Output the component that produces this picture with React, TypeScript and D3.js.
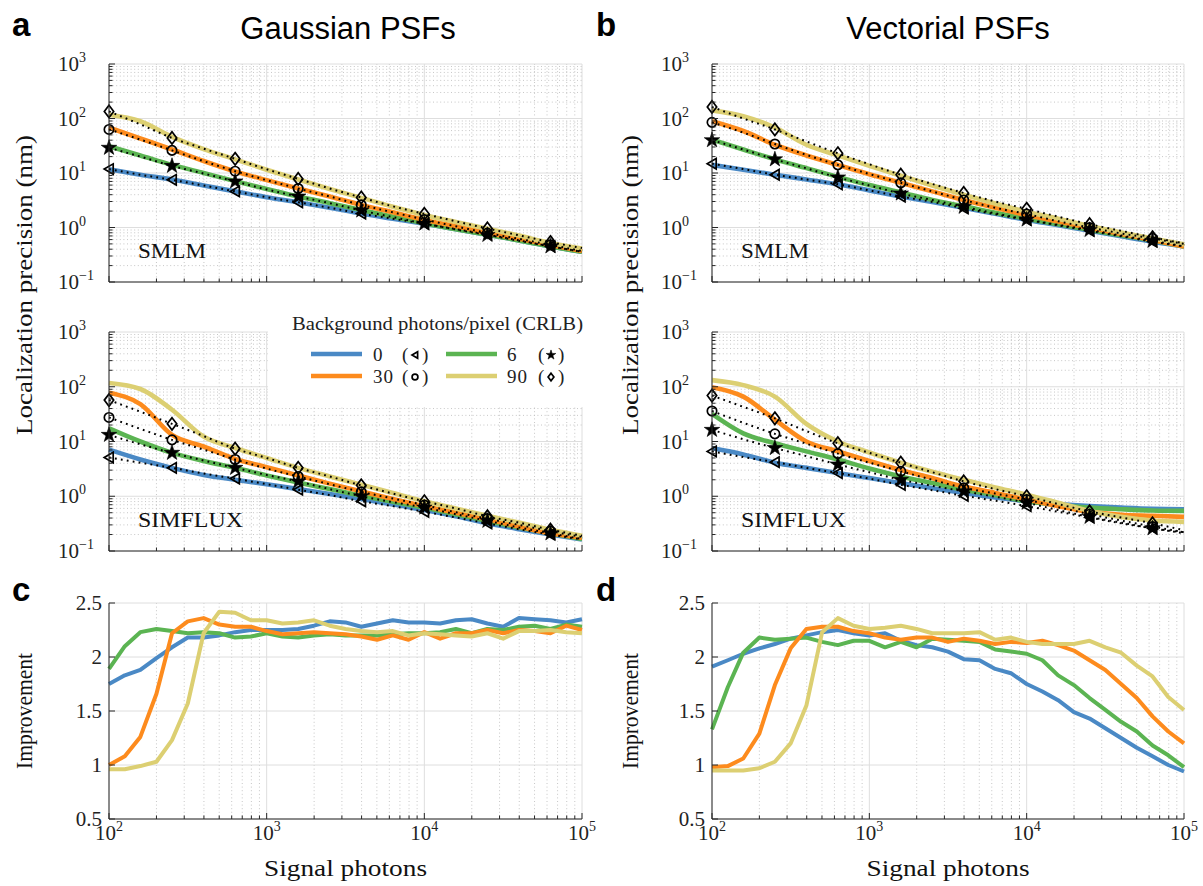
import React from "react";
import * as d3 from "d3";

// ---------------- data ----------------
const SIGNAL = [100, 158, 251, 398, 631, 1000, 1585, 2512, 3981, 6310, 10000, 15849, 25119, 39811, 63096, 100000];
const SIGNAL_FINE = [100, 126, 158, 200, 251, 316, 398, 501, 631, 794, 1000, 1259, 1585, 1995, 2512, 3162, 3981, 5012, 6310, 7943, 10000, 12589, 15849, 19953, 25119, 31623, 39811, 50119, 63096, 79433, 100000];
const MARKER_IDX = [0, 2, 4, 6, 8, 10, 12, 14];

const LEVELS = ["0", "6", "30", "90"];
const LEVEL_COLORS: Record<string, string> = { "0": "#4a89c5", "6": "#5bb452", "30": "#fd8b1d", "90": "#dccf72" };
const LEVEL_MARKERS: Record<string, string> = { "0": "triangle", "6": "star", "30": "circle", "90": "diamond" };

const X_DOMAIN = [1e2, 1e5];
const X_MAJOR = [1e2, 1e3, 1e4, 1e5];
const PREC_DOMAIN = [1e-1, 1e3];
const PREC_MAJOR = [1e-1, 1e0, 1e1, 1e2, 1e3];
const IMP_DOMAIN = [0.5, 2.5];
const IMP_MAJOR = [0.5, 1, 1.5, 2, 2.5];
const IMP_LABELS = ["0.5", "1", "1.5", "2", "2.5"];

// Gaussian PSF, SMLM (fit)
const G_SMLM_0 = [11.7, 9.3, 7.6, 5.9, 4.6, 3.6, 2.9, 2.3, 1.8, 1.45, 1.17, 0.93, 0.74, 0.58, 0.45, 0.36];
const G_SMLM_6 = [31, 21, 14.1, 10, 7.1, 5.1, 3.7, 2.8, 2.1, 1.58, 1.2, 0.93, 0.74, 0.58, 0.45, 0.36];
const G_SMLM_30 = [68, 43, 27, 16.6, 10.7, 7.4, 5.2, 3.7, 2.6, 1.9, 1.38, 1.05, 0.79, 0.62, 0.48, 0.37];
const G_SMLM_90 = [117, 89, 46, 27.5, 17.8, 11.5, 7.6, 5.1, 3.5, 2.4, 1.7, 1.26, 0.95, 0.71, 0.52, 0.41];
// Gaussian PSF, SMLM (CRLB)
const G_SMLM_CRLB_0 = [11.8, 9.3, 7.5, 5.9, 4.6, 3.6, 2.9, 2.3, 1.8, 1.45, 1.17, 0.93, 0.74, 0.58, 0.45, 0.36];
const G_SMLM_CRLB_6 = [29, 20, 13.5, 9.8, 7.0, 5.0, 3.7, 2.8, 2.05, 1.55, 1.18, 0.92, 0.73, 0.57, 0.45, 0.36];
const G_SMLM_CRLB_30 = [63, 41, 26, 16.5, 10.8, 7.4, 5.2, 3.7, 2.6, 1.9, 1.4, 1.05, 0.79, 0.62, 0.48, 0.37];
const G_SMLM_CRLB_90 = [135, 78, 44, 28, 18.2, 11.7, 7.8, 5.2, 3.55, 2.45, 1.78, 1.3, 0.96, 0.72, 0.54, 0.42];
// Gaussian PSF, SIMFLUX (fit)
const G_SIM_0 = [7.1, 4.7, 3.3, 2.45, 2.0, 1.66, 1.35, 1.1, 0.89, 0.71, 0.56, 0.43, 0.32, 0.25, 0.2, 0.162];
const G_SIM_6 = [17.4, 10, 6.2, 4.4, 3.3, 2.4, 1.78, 1.35, 1.02, 0.79, 0.62, 0.47, 0.355, 0.27, 0.21, 0.166];
const G_SIM_30 = [78, 48, 13.2, 8.1, 4.8, 3.4, 2.4, 1.7, 1.23, 0.89, 0.66, 0.5, 0.38, 0.28, 0.21, 0.174];
const G_SIM_90 = [117, 91, 38, 12.3, 7.6, 5.0, 3.3, 2.3, 1.62, 1.15, 0.81, 0.6, 0.44, 0.33, 0.245, 0.19];
// Gaussian PSF, SIMFLUX (CRLB)
const G_SIM_CRLB_0 = [5.1, 4.1, 3.3, 2.6, 2.1, 1.66, 1.32, 1.05, 0.81, 0.66, 0.52, 0.41, 0.32, 0.25, 0.2, 0.162];
const G_SIM_CRLB_6 = [13.2, 8.9, 6.2, 4.5, 3.3, 2.45, 1.86, 1.35, 1.0, 0.78, 0.62, 0.47, 0.355, 0.27, 0.21, 0.166];
const G_SIM_CRLB_30 = [27.5, 17, 10.7, 7.1, 4.7, 3.2, 2.3, 1.66, 1.2, 0.91, 0.69, 0.51, 0.39, 0.3, 0.23, 0.18];
const G_SIM_CRLB_90 = [57, 35, 21, 12.6, 7.4, 5.0, 3.3, 2.3, 1.58, 1.12, 0.81, 0.6, 0.43, 0.33, 0.245, 0.19];

// Vectorial PSF, SMLM (fit)
const V_SMLM_0 = [14.1, 11.5, 9.3, 7.6, 6.2, 4.8, 3.7, 2.95, 2.3, 1.78, 1.38, 1.1, 0.87, 0.69, 0.55, 0.45];
const V_SMLM_6 = [41, 27, 17.8, 12.3, 8.5, 6.0, 4.4, 3.2, 2.45, 1.86, 1.45, 1.15, 0.91, 0.72, 0.58, 0.45];
const V_SMLM_30 = [89, 59, 33, 21, 14.1, 9.5, 6.6, 4.6, 3.2, 2.3, 1.7, 1.29, 0.98, 0.76, 0.59, 0.45];
const V_SMLM_90 = [141, 110, 68, 33, 21, 13.5, 8.9, 5.9, 4.0, 2.75, 1.95, 1.45, 1.07, 0.81, 0.63, 0.49];
// Vectorial PSF, SMLM (CRLB)
const V_SMLM_CRLB_0 = [14.8, 11.8, 9.3, 7.6, 6.2, 4.8, 3.7, 2.95, 2.25, 1.75, 1.38, 1.1, 0.87, 0.69, 0.55, 0.45];
const V_SMLM_CRLB_6 = [40, 27, 17.8, 12.2, 8.3, 5.9, 4.2, 3.2, 2.4, 1.82, 1.4, 1.12, 0.9, 0.71, 0.57, 0.45];
const V_SMLM_CRLB_30 = [85, 55, 34, 21.5, 14.1, 9.6, 6.6, 4.6, 3.2, 2.3, 1.77, 1.3, 1.0, 0.78, 0.63, 0.5];
const V_SMLM_CRLB_90 = [163, 100, 63, 38, 23, 14.5, 9.3, 6.3, 4.3, 3.0, 2.2, 1.58, 1.15, 0.87, 0.66, 0.51];
// Vectorial PSF, SIMFLUX (fit)
const V_SIM_0 = [7.6, 5.8, 4.1, 3.3, 2.65, 2.15, 1.74, 1.41, 1.15, 0.95, 0.81, 0.72, 0.66, 0.62, 0.59, 0.58];
const V_SIM_6 = [32, 14.1, 9.3, 6.6, 4.7, 3.2, 2.3, 1.74, 1.32, 1.05, 0.81, 0.69, 0.62, 0.58, 0.55, 0.54];
const V_SIM_30 = [98, 66, 25, 10, 6.6, 4.4, 3.0, 2.15, 1.5, 1.15, 0.87, 0.66, 0.52, 0.46, 0.44, 0.42];
const V_SIM_90 = [132, 107, 66, 21, 10, 6.3, 4.1, 2.8, 2.0, 1.45, 1.07, 0.76, 0.54, 0.42, 0.36, 0.34];
// Vectorial PSF, SIMFLUX (CRLB)
const V_SIM_CRLB_0 = [6.6, 5.2, 4.2, 3.3, 2.65, 2.1, 1.62, 1.29, 1.02, 0.83, 0.66, 0.52, 0.41, 0.32, 0.26, 0.21];
const V_SIM_CRLB_6 = [16.3, 11, 7.6, 5.4, 3.8, 2.75, 2.0, 1.55, 1.23, 0.98, 0.76, 0.56, 0.42, 0.33, 0.26, 0.22];
const V_SIM_CRLB_30 = [36, 22, 13.8, 9.1, 6.0, 4.1, 2.85, 2.0, 1.42, 1.12, 0.87, 0.63, 0.47, 0.36, 0.28, 0.22];
const V_SIM_CRLB_90 = [69, 43, 26.5, 15.5, 9.3, 6.2, 4.1, 2.75, 1.87, 1.35, 1.0, 0.72, 0.53, 0.41, 0.32, 0.24];

// Improvement, Gaussian
const IMP_G_0 = [1.75, 1.83, 1.88, 1.99, 2.09, 2.18, 2.18, 2.2, 2.23, 2.25, 2.25, 2.25, 2.26, 2.29, 2.33, 2.32, 2.28, 2.31, 2.34, 2.32, 2.32, 2.31, 2.34, 2.35, 2.31, 2.28, 2.36, 2.35, 2.34, 2.32, 2.35];
const IMP_G_6 = [1.89, 2.1, 2.23, 2.26, 2.24, 2.22, 2.23, 2.22, 2.18, 2.19, 2.22, 2.19, 2.18, 2.2, 2.21, 2.2, 2.2, 2.2, 2.21, 2.22, 2.22, 2.23, 2.26, 2.22, 2.26, 2.25, 2.28, 2.29, 2.26, 2.3, 2.28];
const IMP_G_30 = [1.0, 1.08, 1.26, 1.66, 2.22, 2.33, 2.36, 2.3, 2.28, 2.28, 2.24, 2.21, 2.22, 2.23, 2.22, 2.21, 2.19, 2.16, 2.2, 2.16, 2.23, 2.17, 2.22, 2.22, 2.25, 2.22, 2.25, 2.24, 2.22, 2.29, 2.25];
const IMP_G_90 = [0.96, 0.96, 0.99, 1.03, 1.23, 1.57, 2.22, 2.42, 2.41, 2.34, 2.34, 2.31, 2.32, 2.34, 2.29, 2.26, 2.24, 2.23, 2.24, 2.2, 2.22, 2.21, 2.2, 2.19, 2.22, 2.17, 2.24, 2.24, 2.25, 2.23, 2.22];
// Improvement, Vectorial
const IMP_V_0 = [1.91, 1.97, 2.03, 2.08, 2.12, 2.17, 2.2, 2.23, 2.25, 2.22, 2.2, 2.22, 2.15, 2.11, 2.09, 2.05, 1.98, 1.97, 1.89, 1.85, 1.75, 1.68, 1.6, 1.49, 1.43, 1.34, 1.25, 1.16, 1.08, 1.0, 0.94];
const IMP_V_6 = [1.33, 1.72, 2.04, 2.18, 2.16, 2.17, 2.18, 2.14, 2.11, 2.15, 2.15, 2.09, 2.14, 2.09, 2.17, 2.16, 2.15, 2.14, 2.07, 2.05, 2.03, 1.97, 1.83, 1.74, 1.62, 1.51, 1.4, 1.31, 1.18, 1.09, 0.98];
const IMP_V_30 = [0.98, 0.99, 1.06, 1.29, 1.74, 2.08, 2.26, 2.28, 2.28, 2.24, 2.22, 2.18, 2.16, 2.18, 2.18, 2.14, 2.17, 2.15, 2.12, 2.14, 2.13, 2.15, 2.11, 2.06, 1.97, 1.88, 1.75, 1.62, 1.45, 1.31, 1.2];
const IMP_V_90 = [0.95, 0.95, 0.95, 0.97, 1.03, 1.2, 1.55, 2.23, 2.36, 2.29, 2.26, 2.27, 2.29, 2.26, 2.22, 2.22, 2.22, 2.23, 2.16, 2.18, 2.14, 2.12, 2.12, 2.12, 2.15, 2.09, 2.04, 1.92, 1.82, 1.63, 1.51];

// ---------------- styling ----------------
const SERIF = "'Liberation Serif', 'DejaVu Serif', serif";
const SANS = "'Liberation Sans', Arial, sans-serif";
const AXIS = "#262626";
const GRID_MAJOR = "#dedede";
const GRID_MINOR = "#b9b9b9";

const isDecade = (v: number) => Math.abs(Math.log10(v) - Math.round(Math.log10(v))) < 1e-9;

function Marker({ kind, cx, cy, s = 1 }: { kind: string; cx: number; cy: number; s?: number }) {
  const t = `translate(${cx},${cy}) scale(${s})`;
  const sw = 1.7 / s;
  if (kind === "circle") return <circle transform={t} r={4.7} fill="none" stroke="#000" strokeWidth={sw} />;
  if (kind === "triangle") return <path transform={t} d="M-4.8,0L4.2,-5.2L4.2,5.2Z" fill="none" stroke="#000" strokeWidth={sw} strokeLinejoin="miter" />;
  if (kind === "diamond") return <path transform={t} d="M0,-6.2L4.7,0L0,6.2L-4.7,0Z" fill="none" stroke="#000" strokeWidth={sw} />;
  const star = d3.symbol().type(d3.symbolStar).size(75)() as string;
  return <path transform={t} d={star} fill="#000" stroke="#000" strokeWidth={0.6 / s} />;
}

type Box = { L: number; R: number; T: number; B: number };

function LogXGrid({ x, box }: { x: any; box: Box }) {
  const ticks: number[] = x.ticks();
  return (
    <g>
      {ticks.filter((v) => !isDecade(v)).map((v, i) => (
        <line key={"xm" + i} x1={x(v)} x2={x(v)} y1={box.T} y2={box.B} stroke={GRID_MINOR} strokeWidth={0.8} strokeDasharray="1 2.6" />
      ))}
      {X_MAJOR.map((v, i) => (
        <line key={"xM" + i} x1={x(v)} x2={x(v)} y1={box.T} y2={box.B} stroke={GRID_MAJOR} strokeWidth={1} />
      ))}
    </g>
  );
}

function XAxis({ x, box, labels }: { x: any; box: Box; labels: boolean }) {
  const ticks: number[] = x.ticks();
  return (
    <g>
      <line x1={box.L} x2={box.R} y1={box.B} y2={box.B} stroke={AXIS} strokeWidth={1} />
      {ticks.map((v, i) => {
        const len = isDecade(v) ? 6 : 3.5;
        return <line key={i} x1={x(v)} x2={x(v)} y1={box.B} y2={box.B - len} stroke={AXIS} strokeWidth={1} />;
      })}
      {labels &&
        X_MAJOR.map((v, i) => (
          <text key={"l" + i} x={x(v)} y={box.B + 21} textAnchor="middle" fontFamily={SERIF} fontSize={21} fill="#222">
            10
            <tspan dy={-9} fontSize={14}>{String(Math.round(Math.log10(v)))}</tspan>
          </text>
        ))}
    </g>
  );
}

function PrecisionPanel({ box, fits, crlbs, label }: { box: Box; fits: Record<string, number[]>; crlbs: Record<string, number[]>; label: string; }) {
  const x = d3.scaleLog().domain(X_DOMAIN).range([box.L, box.R]);
  const y = d3.scaleLog().domain(PREC_DOMAIN).range([box.B, box.T]);
  const yTicks: number[] = y.ticks();
  const line = d3
    .line<number>()
    .x((_, i) => x(SIGNAL[i]))
    .y((d) => y(d))
    .curve(d3.curveMonotoneX);
  return (
    <g>
      <LogXGrid x={x} box={box} />
      {yTicks.filter((v) => !isDecade(v)).map((v, i) => (
        <line key={"ym" + i} x1={box.L} x2={box.R} y1={y(v)} y2={y(v)} stroke={GRID_MINOR} strokeWidth={0.8} strokeDasharray="1 2.6" />
      ))}
      {PREC_MAJOR.map((v, i) => (
        <line key={"yM" + i} x1={box.L} x2={box.R} y1={y(v)} y2={y(v)} stroke={GRID_MAJOR} strokeWidth={1} />
      ))}
      {LEVELS.map((k) => (
        <path key={"f" + k} d={line(fits[k]) as string} fill="none" stroke={LEVEL_COLORS[k]} strokeWidth={4.6} strokeLinejoin="round" />
      ))}
      {LEVELS.map((k) => (
        <path key={"c" + k} d={line(crlbs[k]) as string} fill="none" stroke="#000" strokeWidth={2} strokeDasharray="1.8 4.2" />
      ))}
      {LEVELS.map((k) =>
        MARKER_IDX.map((idx) => (
          <Marker key={k + "-" + idx} kind={LEVEL_MARKERS[k]} cx={x(SIGNAL[idx])} cy={y(crlbs[k][idx])} />
        ))
      )}
      <line x1={box.L} x2={box.L} y1={box.T} y2={box.B} stroke={AXIS} strokeWidth={1} />
      {yTicks.map((v, i) => {
        const len = isDecade(v) ? 6 : 3.5;
        return <line key={"yt" + i} x1={box.L} x2={box.L + len} y1={y(v)} y2={y(v)} stroke={AXIS} strokeWidth={1} />;
      })}
      {PREC_MAJOR.map((v, i) => (
        <text key={"yl" + i} x={box.L - 51} y={y(v) + 7} fontFamily={SERIF} fontSize={21} fill="#222">
          10
          <tspan dy={-9} fontSize={14}>{String(Math.round(Math.log10(v))).replace("-", "\u2212")}</tspan>
        </text>
      ))}
      <XAxis x={x} box={box} labels={false} />
      <text x={box.L + 29} y={box.B - 24} fontFamily={SERIF} fontSize={22} fill="#111" textLength={label === "SMLM" ? 68 : 105} lengthAdjust="spacingAndGlyphs">
        {label}
      </text>
    </g>
  );
}

function ImprovementPanel({ box, series }: { box: Box; series: Record<string, number[]> }) {
  const x = d3.scaleLog().domain(X_DOMAIN).range([box.L, box.R]);
  const y = d3.scaleLinear().domain(IMP_DOMAIN).range([box.B, box.T]);
  const line = d3
    .line<number>()
    .x((_, i) => x(SIGNAL_FINE[i]))
    .y((d) => y(d));
  return (
    <g>
      <LogXGrid x={x} box={box} />
      {IMP_MAJOR.map((v, i) => (
        <line key={"yM" + i} x1={box.L} x2={box.R} y1={y(v)} y2={y(v)} stroke={GRID_MAJOR} strokeWidth={1} />
      ))}
      {LEVELS.map((k) => (
        <path key={k} d={line(series[k]) as string} fill="none" stroke={LEVEL_COLORS[k]} strokeWidth={4} strokeLinejoin="round" />
      ))}
      <line x1={box.L} x2={box.L} y1={box.T} y2={box.B} stroke={AXIS} strokeWidth={1} />
      {IMP_MAJOR.map((v, i) => (
        <g key={"yt" + i}>
          <line x1={box.L} x2={box.L + 6} y1={y(v)} y2={y(v)} stroke={AXIS} strokeWidth={1} />
          <text x={box.L - 7} y={y(v) + 7} textAnchor="end" fontFamily={SERIF} fontSize={21} fill="#222">
            {IMP_LABELS[i]}
          </text>
        </g>
      ))}
      <XAxis x={x} box={box} labels={true} />
      <text x={(box.L + box.R) / 2} y={box.B + 57} textAnchor="middle" fontFamily={SERIF} fontSize={23} fill="#111" textLength={163} lengthAdjust="spacingAndGlyphs">
        Signal photons
      </text>
    </g>
  );
}

function Legend() {
  const rows = [
    ["0", "6"],
    ["30", "90"],
  ];
  const rowY = [354, 376];
  const colLine = [311, 446];
  const colNum = [373, 507];
  const colParen = [402, 538];
  return (
    <g>
      <rect x={268} y={300} width={322} height={107} fill="#fff" />
      <text x={292} y={330} fontFamily={SERIF} fontSize={19} fill="#222" textLength={291} lengthAdjust="spacingAndGlyphs">
        Background photons/pixel (CRLB)
      </text>
      {rows.map((row, r) =>
        row.map((k, c) => (
          <g key={k}>
            <line x1={colLine[c]} x2={colLine[c] + 51} y1={rowY[r]} y2={rowY[r]} stroke={LEVEL_COLORS[k]} strokeWidth={4.5} />
            <text x={colNum[c]} y={rowY[r] + 7} fontFamily={SERIF} fontSize={19} fill="#222" letterSpacing={1}>
              {k}
            </text>
            <text x={colParen[c]} y={rowY[r] + 7} fontFamily={SERIF} fontSize={19} fill="#222">(</text>
            <Marker kind={LEVEL_MARKERS[k]} cx={colParen[c] + 13} cy={rowY[r] + 1} s={0.62} />
            <text x={colParen[c] + 20} y={rowY[r] + 7} fontFamily={SERIF} fontSize={19} fill="#222">)</text>
          </g>
        ))
      )}
    </g>
  );
}

export default function App() {
  const aTop: Box = { L: 109, R: 582, T: 64, B: 282 };
  const aBot: Box = { L: 109, R: 582, T: 332, B: 551 };
  const bTop: Box = { L: 712, R: 1184, T: 64, B: 282 };
  const bBot: Box = { L: 712, R: 1184, T: 332, B: 551 };
  const cBox: Box = { L: 109, R: 582, T: 603, B: 819 };
  const dBox: Box = { L: 712, R: 1184, T: 603, B: 819 };

  return (
    <svg width={1203} height={886} viewBox="0 0 1203 886" style={{ position: "absolute", left: 0, top: 0, background: "#fff" }}>
      <rect x={0} y={0} width={1203} height={886} fill="#fff" />
      <text x={348} y={39} textAnchor="middle" fontFamily={SANS} fontSize={31} fill="#000">Gaussian PSFs</text>
      <text x={948} y={39} textAnchor="middle" fontFamily={SANS} fontSize={31} fill="#000">Vectorial PSFs</text>
      <text x={12} y={36} fontFamily={SANS} fontWeight="bold" fontSize={33} fill="#000">a</text>
      <text x={596} y={36} fontFamily={SANS} fontWeight="bold" fontSize={33} fill="#000">b</text>
      <text x={12} y={601} fontFamily={SANS} fontWeight="bold" fontSize={33} fill="#000">c</text>
      <text x={596} y={601} fontFamily={SANS} fontWeight="bold" fontSize={33} fill="#000">d</text>

      <PrecisionPanel box={aTop} label="SMLM"
        fits={{ "0": G_SMLM_0, "6": G_SMLM_6, "30": G_SMLM_30, "90": G_SMLM_90 }}
        crlbs={{ "0": G_SMLM_CRLB_0, "6": G_SMLM_CRLB_6, "30": G_SMLM_CRLB_30, "90": G_SMLM_CRLB_90 }} />
      <PrecisionPanel box={aBot} label="SIMFLUX"
        fits={{ "0": G_SIM_0, "6": G_SIM_6, "30": G_SIM_30, "90": G_SIM_90 }}
        crlbs={{ "0": G_SIM_CRLB_0, "6": G_SIM_CRLB_6, "30": G_SIM_CRLB_30, "90": G_SIM_CRLB_90 }} />
      <Legend />
      <PrecisionPanel box={bTop} label="SMLM"
        fits={{ "0": V_SMLM_0, "6": V_SMLM_6, "30": V_SMLM_30, "90": V_SMLM_90 }}
        crlbs={{ "0": V_SMLM_CRLB_0, "6": V_SMLM_CRLB_6, "30": V_SMLM_CRLB_30, "90": V_SMLM_CRLB_90 }} />
      <PrecisionPanel box={bBot} label="SIMFLUX"
        fits={{ "0": V_SIM_0, "6": V_SIM_6, "30": V_SIM_30, "90": V_SIM_90 }}
        crlbs={{ "0": V_SIM_CRLB_0, "6": V_SIM_CRLB_6, "30": V_SIM_CRLB_30, "90": V_SIM_CRLB_90 }} />
      <ImprovementPanel box={cBox} series={{ "0": IMP_G_0, "6": IMP_G_6, "30": IMP_G_30, "90": IMP_G_90 }} />
      <ImprovementPanel box={dBox} series={{ "0": IMP_V_0, "6": IMP_V_6, "30": IMP_V_30, "90": IMP_V_90 }} />

      <text transform="translate(24,285) rotate(-90)" textAnchor="middle" dominantBaseline="central" fontFamily={SERIF} fontSize={23} fill="#111" textLength={300} lengthAdjust="spacingAndGlyphs">
        Localization precision (nm)
      </text>
      <text transform="translate(630,285) rotate(-90)" textAnchor="middle" dominantBaseline="central" fontFamily={SERIF} fontSize={23} fill="#111" textLength={300} lengthAdjust="spacingAndGlyphs">
        Localization precision (nm)
      </text>
      <text transform="translate(24,711) rotate(-90)" textAnchor="middle" dominantBaseline="central" fontFamily={SERIF} fontSize={23} fill="#111" textLength={116} lengthAdjust="spacingAndGlyphs">
        Improvement
      </text>
      <text transform="translate(630,711) rotate(-90)" textAnchor="middle" dominantBaseline="central" fontFamily={SERIF} fontSize={23} fill="#111" textLength={116} lengthAdjust="spacingAndGlyphs">
        Improvement
      </text>
    </svg>
  );
}
